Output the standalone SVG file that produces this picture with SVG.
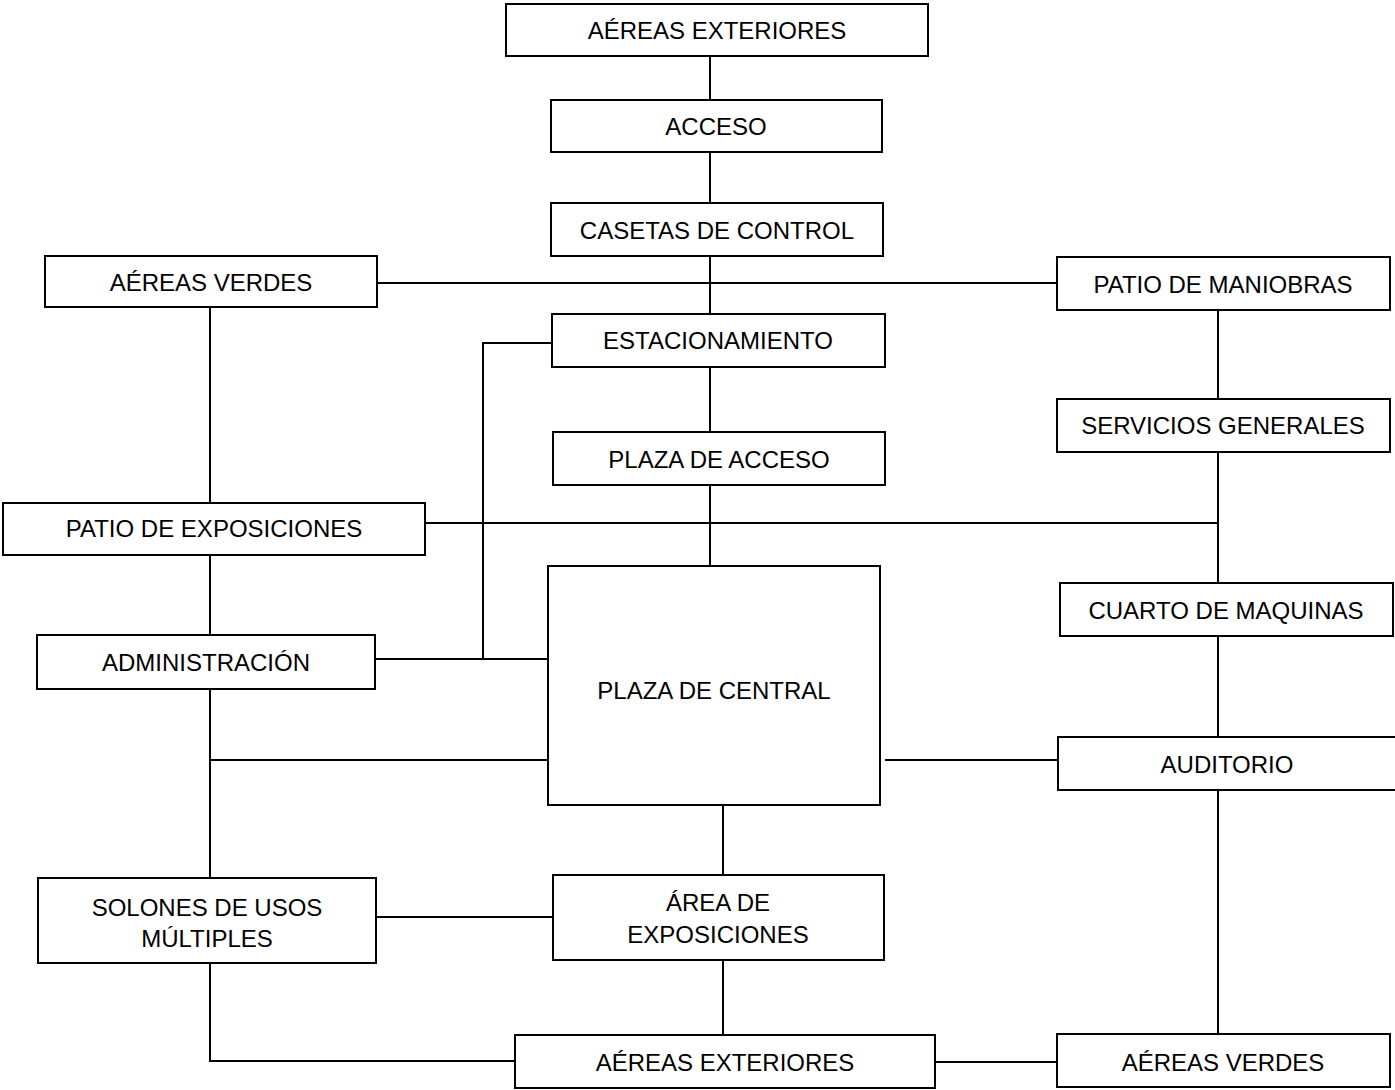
<svg xmlns="http://www.w3.org/2000/svg" width="1395" height="1090" viewBox="0 0 1395 1090">
<style>
.n rect{fill:#fff;stroke:#000;stroke-width:2}
.n text{font-family:"Liberation Sans",Arial,sans-serif;font-size:24px;fill:#000;text-anchor:middle}
#conn line,#conn polyline{stroke:#000;stroke-width:2;fill:none}
</style>
<rect width="1395" height="1090" fill="#fff"/>
<g id="conn">
<line x1="710" y1="56" x2="710" y2="100"/>
<line x1="710" y1="152" x2="710" y2="203"/>
<line x1="710" y1="256" x2="710" y2="314"/>
<line x1="377" y1="283" x2="1057" y2="283"/>
<line x1="710" y1="367" x2="710" y2="432"/>
<line x1="710" y1="485" x2="710" y2="566"/>
<line x1="1218" y1="310" x2="1218" y2="399"/>
<line x1="1218" y1="452" x2="1218" y2="583"/>
<line x1="1218" y1="636" x2="1218" y2="737"/>
<line x1="1218" y1="790" x2="1218" y2="1034"/>
<line x1="425" y1="523" x2="1218" y2="523"/>
<line x1="210" y1="307" x2="210" y2="503"/>
<line x1="210" y1="555" x2="210" y2="635"/>
<line x1="210" y1="689" x2="210" y2="878"/>
<polyline points="210,963 210,1061 514,1061"/>
<polyline points="552,343 483,343 483,659"/>
<line x1="375" y1="659" x2="548" y2="659"/>
<line x1="210" y1="760" x2="548" y2="760"/>
<line x1="885" y1="760" x2="1058" y2="760"/>
<line x1="723" y1="805" x2="723" y2="875"/>
<line x1="723" y1="960" x2="723" y2="1035"/>
<line x1="376" y1="917" x2="553" y2="917"/>
<line x1="935" y1="1062" x2="1057" y2="1062"/>
</g>
<g id="n1" class="n"><rect x="506" y="4" width="422" height="52"/><text x="717" y="39">AÉREAS EXTERIORES</text></g>
<g id="n2" class="n"><rect x="551" y="100" width="331" height="52"/><text x="716" y="135">ACCESO</text></g>
<g id="n3" class="n"><rect x="551" y="203" width="332" height="53"/><text x="717" y="239">CASETAS DE CONTROL</text></g>
<g id="n4" class="n"><rect x="45" y="256" width="332" height="51"/><text x="211" y="291">AÉREAS VERDES</text></g>
<g id="n5" class="n"><rect x="1057" y="257" width="333" height="53"/><text x="1223" y="293">PATIO DE MANIOBRAS</text></g>
<g id="n6" class="n"><rect x="552" y="314" width="333" height="53"/><text x="718" y="349">ESTACIONAMIENTO</text></g>
<g id="n7" class="n"><rect x="553" y="432" width="332" height="53"/><text x="719" y="468">PLAZA DE ACCESO</text></g>
<g id="n8" class="n"><rect x="1057" y="399" width="333" height="53"/><text x="1223" y="434">SERVICIOS GENERALES</text></g>
<g id="n9" class="n"><rect x="3" y="503" width="422" height="52"/><text x="214" y="537">PATIO DE EXPOSICIONES</text></g>
<g id="n10" class="n"><rect x="548" y="566" width="332" height="239"/><text x="714" y="699">PLAZA DE CENTRAL</text></g>
<g id="n11" class="n"><rect x="1060" y="583" width="333" height="53"/><text x="1226" y="619">CUARTO DE MAQUINAS</text></g>
<g id="n12" class="n"><rect x="37" y="635" width="338" height="54"/><text x="206" y="671">ADMINISTRACIÓN</text></g>
<g id="n13" class="n"><rect x="1058" y="737" width="340" height="53"/><text x="1227" y="773">AUDITORIO</text></g>
<g id="n14" class="n"><rect x="38" y="878" width="338" height="85"/><text x="207" y="916">SOLONES DE USOS</text><text x="207" y="947">MÚLTIPLES</text></g>
<g id="n15" class="n"><rect x="553" y="875" width="331" height="85"/><text x="718" y="911">ÁREA DE</text><text x="718" y="943">EXPOSICIONES</text></g>
<g id="n16" class="n"><rect x="515" y="1035" width="420" height="53"/><text x="725" y="1071">AÉREAS EXTERIORES</text></g>
<g id="n17" class="n"><rect x="1057" y="1034" width="333" height="53"/><text x="1223" y="1071">AÉREAS VERDES</text></g>
</svg>
